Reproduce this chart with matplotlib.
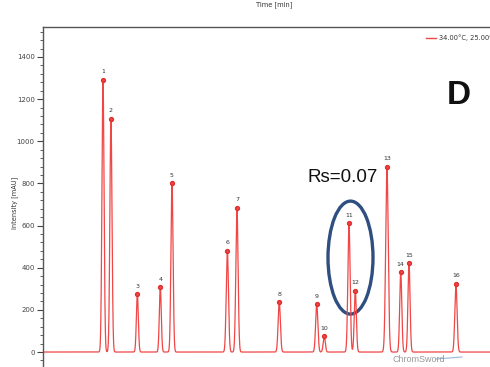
import numpy as np
import matplotlib
matplotlib.use("Agg")
import matplotlib.pyplot as plt
from matplotlib.patches import Ellipse
from matplotlib.ticker import MultipleLocator

# peak data
peak_ids = [str(i) for i in range(1, 17)]
peak_times = [4.00, 4.53, 6.29, 7.82, 8.60, 12.29, 12.93, 15.75,
              18.25, 18.75, 20.40, 20.82, 22.93, 23.85, 24.40, 27.53]
peak_heights = [1291, 1107, 275, 308, 802, 481, 685, 237,
                226, 76, 611, 290, 880, 378, 421, 323]
peak_sigma = [0.07, 0.07, 0.065, 0.065, 0.07, 0.075, 0.075, 0.075,
              0.075, 0.07, 0.075, 0.07, 0.085, 0.07, 0.07, 0.075]

legend_label = "34.00°C, 25.00%"
red = "#f04646"

t = np.linspace(0, 29.8, 6000)
signal = np.zeros_like(t)
for tr, h, s in zip(peak_times, peak_heights, peak_sigma):
    signal += h * np.exp(-0.5 * ((t - tr) / s) ** 2)

fig = plt.figure(figsize=(4.9, 3.67), dpi=100)
ax = fig.add_axes([43 / 490, 0, 1 - 43 / 490, 1 - 27 / 367])
plt.rcParams['font.family'] = ['Liberation Sans', 'DejaVu Sans']

ax.plot(t, signal, color=red, lw=0.9)
ax.plot(peak_times, peak_heights, 'o', color=red, ms=2.8, mec="#e03030")
for lab, tr, h in zip(peak_ids, peak_times, peak_heights):
    ax.text(tr, h + 26, lab, ha='center', va='bottom', fontsize=4.5,
            color="#333333", family='DejaVu Sans')

ax.set_xlim(0, 29.8)
ax.set_ylim(-71, 1542)
ax.set_xticks([])
ax.yaxis.set_major_locator(MultipleLocator(200))
ax.yaxis.set_minor_locator(MultipleLocator(40))
ax.tick_params(axis='y', which='major', length=4, width=0.8, labelsize=5,
               colors="#444444", pad=2)
ax.tick_params(axis='y', which='minor', length=2, width=0.6, colors="#444444")
for lab in ax.get_yticklabels():
    lab.set_family('DejaVu Sans')
for side in ['right', 'bottom']:
    ax.spines[side].set_visible(False)
for side in ['top', 'left']:
    ax.spines[side].set_color("#555555")
    ax.spines[side].set_linewidth(1.0)

# highlighted critical pair
ax.add_patch(Ellipse((20.5, 448), 3.0, 536, fill=False, ec="#2f4f80", lw=2.4))
ax.text(17.6, 826, "Rs=0.07", fontsize=13.5, va='center', ha='left', color="#111111")
ax.text(27.7, 1215, "D", fontsize=24, fontweight='bold', ha='center', va='center',
        color="#111111")

# legend, axis titles and watermark
fig.add_artist(plt.Line2D([426 / 490, 436 / 490], [1 - 38 / 367, 1 - 38 / 367],
                          color=red, lw=1.0))
fig.text(439 / 490, 1 - 38 / 367, legend_label, fontsize=4.8, va='center',
         ha='left', color="#333333", family='DejaVu Sans')
fig.text(15 / 490, 1 - 203 / 367, "Intensity [mAU]", rotation=90, fontsize=4.8,
         ha='center', va='center', color="#333333", family='DejaVu Sans')
fig.text(274 / 490, 1 - 5 / 367, "Time [min]", fontsize=4.8, ha='center',
         va='center', color="#333333", family='DejaVu Sans')
fig.text(392 / 490, 1 - 360 / 367, "ChromSword", fontsize=6.5, ha='left',
         va='center', color="#999999")
fig.add_artist(plt.Line2D([436 / 490, 462 / 490], [1 - 359 / 367, 1 - 357 / 367],
                          color="#9ab8d8", lw=0.8))

fig.savefig("out.png", dpi=100)
